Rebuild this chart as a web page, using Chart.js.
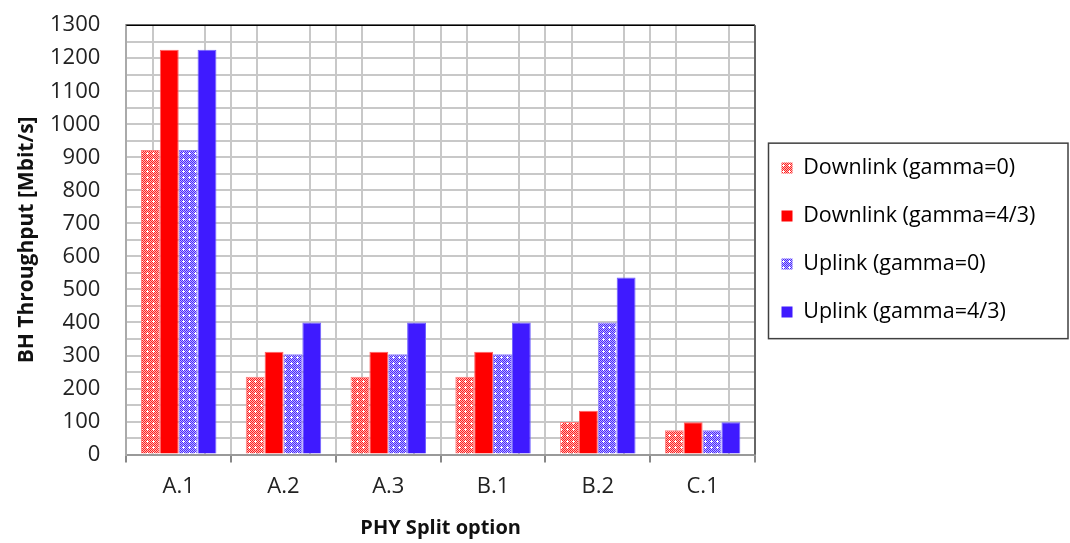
<!DOCTYPE html>
<html>
<head>
<meta charset="utf-8">
<script src="https://cdn.jsdelivr.net/npm/chart.js@4.4.1/dist/chart.umd.min.js"></script>
<style>
  html, body { margin: 0; padding: 0; background: #fff; }
  #wrap { width: 1070px; height: 543px; }
</style>
</head>
<body>
<div id="wrap"><canvas id="chart" width="1070" height="543"></canvas></div>
<script>
// --------------------
// Data
// --------------------
const categories = ["A.1", "A.2", "A.3", "B.1", "B.2", "C.1"];
const downlinkGamma0 = [922, 236, 236, 236, 99, 74];
const downlinkGamma43 = [1226, 311, 311, 311, 133, 98];
const uplinkGamma0 = [922, 304, 304, 304, 400, 74];
const uplinkGamma43 = [1226, 400, 400, 400, 536, 98];
const seriesNames = ["Downlink (gamma=0)", "Downlink (gamma=4/3)", "Uplink (gamma=0)", "Uplink (gamma=4/3)"];
const halfSlots = ["", "", "", "", "", "", "", "", "", "", "", "", ""];

const FONT = "'Open Sans', 'Noto Sans', sans-serif";

// --------------------
// Dotted fill pattern (Excel-like)
// --------------------
function makePattern(color, tint) {
  const tile = document.createElement("canvas");
  tile.width = 6;
  tile.height = 6;
  const c = tile.getContext("2d");
  c.fillStyle = tint;
  c.fillRect(0, 0, 6, 6);
  c.fillStyle = color;
  for (let y = 0; y < 6; y++) {
    for (let x = 0; x < 6; x++) {
      if ((x + y) % 2 === 0) c.fillRect(x, y, 1, 1);
    }
  }
  c.fillStyle = "#fff";
  [[3, 2], [2, 3], [3, 3], [4, 3], [3, 4]].forEach(p => c.fillRect(p[0], p[1], 1, 1));
  return c.createPattern(tile, "repeat");
}

const ctx = document.getElementById("chart").getContext("2d");
const redDots = makePattern("#ff2020", "#ffb4b4");
const blueDots = makePattern("#4a28ff", "#bab0ff");

// --------------------
// Legend: fixed width + border round it
// --------------------
const LEGEND_W = 312;
const legendFrame = {
  id: "legendFrame",
  beforeLayout(chart) {
    const lg = chart.legend;
    if (lg && !lg._fixedFit) {
      const orig = lg.fit;
      lg.fit = function () {
        orig.call(this);
        this.width = LEGEND_W;
      };
      lg._fixedFit = true;
    }
  },
  afterDraw(chart) {
    const lg = chart.legend;
    if (!lg || !lg.legendHitBoxes.length) return;
    const boxes = lg.legendHitBoxes;
    const top = Math.min(...boxes.map(b => b.top)) - 14;
    const bottom = Math.max(...boxes.map(b => b.top + b.height)) + 16;
    const left = Math.min(...boxes.map(b => b.left)) - 13;
    const right = 1068;
    const g = chart.ctx;
    g.save();
    g.strokeStyle = "#404040";
    g.lineWidth = 1.5;
    g.strokeRect(left, top, right - left, bottom - top);
    g.restore();
  }
};

// --------------------
// Plot frame: black top, dark right edge
// --------------------
const plotFrame = {
  id: "plotFrame",
  afterDatasetsDraw(chart) {
    const a = chart.chartArea;
    const g = chart.ctx;
    g.save();
    g.lineWidth = 1.5;
    g.strokeStyle = "#000";
    g.beginPath();
    g.moveTo(a.left, a.top);
    g.lineTo(a.right, a.top);
    g.stroke();
    g.strokeStyle = "#666";
    g.lineWidth = 2;
    g.beginPath();
    g.moveTo(a.right, a.top);
    g.lineTo(a.right, a.bottom);
    g.stroke();
    g.restore();
  }
};

new Chart(ctx, {
  type: "bar",
  data: {
    labels: categories,
    datasets: [
      { label: seriesNames[0], data: downlinkGamma0, backgroundColor: redDots, borderColor: "#ff8080", borderWidth: 1 },
      { label: seriesNames[1], data: downlinkGamma43, backgroundColor: "#ff0000", borderColor: "#ff6060", borderWidth: 1 },
      { label: seriesNames[2], data: uplinkGamma0, backgroundColor: blueDots, borderColor: "#9080ff", borderWidth: 1 },
      { label: seriesNames[3], data: uplinkGamma43, backgroundColor: "#3f1aff", borderColor: "#7060ff", borderWidth: 1 }
    ]
  },
  options: {
    responsive: false,
    animation: false,
    layout: { padding: { left: 17, top: -4, right: 3, bottom: 2 } },
    datasets: { bar: { categoryPercentage: 0.72, barPercentage: 1.0 } },
    plugins: {
      tooltip: { enabled: false },
      legend: {
        position: "right",
        fullSize: false,
        labels: {
          font: { family: FONT, size: 21.5 },
          color: "#222",
          boxWidth: 11,
          boxHeight: 11,
          padding: 26.5,
          generateLabels(chart) {
            return chart.data.datasets.map((ds, i) => ({
              text: ds.label,
              fillStyle: ds.backgroundColor,
              strokeStyle: ds.backgroundColor,
              lineWidth: 0,
              datasetIndex: i
            }));
          }
        }
      }
    },
    scales: {
      x: {
        grid: { color: "#c8c8c8", lineWidth: 2, tickLength: 8, tickColor: "#888" },
        border: { color: "#999", width: 2 },
        ticks: { font: { family: FONT, size: 22 }, color: "#222", padding: 11 },
        title: { display: true, text: "PHY Split option", font: { family: FONT, size: 20, weight: "bold" }, color: "#111", padding: { top: 5, bottom: 1 } }
      },
      x2: {
        type: "category",
        labels: halfSlots,
        position: "top",
        offset: false,
        grid: { color: "#c8c8c8", lineWidth: 2, drawTicks: false },
        border: { display: false },
        ticks: { display: false }
      },
      y: {
        min: 0,
        max: 1300,
        grid: { color: "#c8c8c8", lineWidth: 2, tickLength: 14, tickColor: "rgba(0,0,0,0)" },
        border: { color: "#aaa", width: 2 },
        ticks: {
          stepSize: 50,
          autoSkip: false,
          padding: 12,
          font: { family: FONT, size: 22 },
          color: "#222",
          callback: v => (v % 100 === 0 ? v : "")
        },
        title: { display: true, text: "BH Throughput [Mbit/s]", font: { family: FONT, size: 21, weight: "bold", lineHeight: 1 }, color: "#111", padding: { top: 0, bottom: 0 } }
      }
    }
  },
  plugins: [legendFrame, plotFrame]
});
</script>
</body>
</html>
